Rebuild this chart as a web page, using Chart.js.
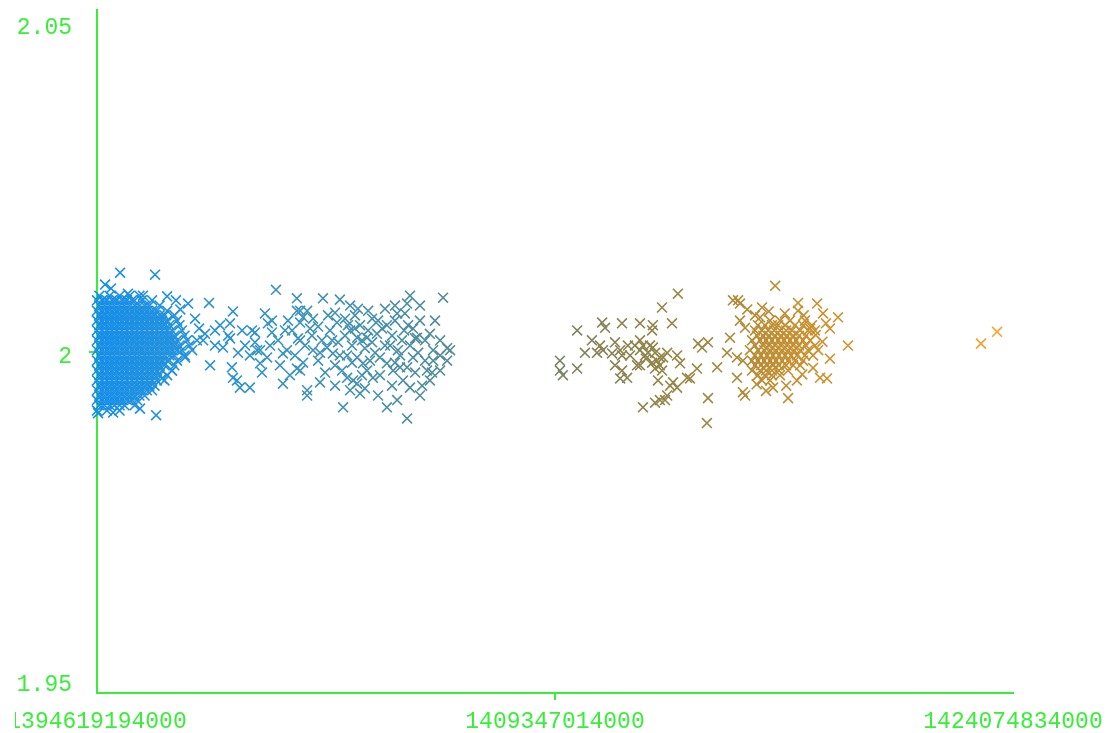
<!DOCTYPE html>
<html>
<head>
<meta charset="utf-8">
<script src="https://cdn.jsdelivr.net/npm/chart.js@4.4.1/dist/chart.umd.min.js"></script>
<style>
  html, body { margin: 0; padding: 0; background: #fff; overflow: hidden; }
  #frame { position: absolute; left: 15px; top: 0; width: 1095px; height: 733px; overflow: hidden; }
  #chart { position: absolute; left: -15px; top: 0; }
</style>
</head>
<body>
<div id="frame"><canvas id="chart" width="1110" height="733"></canvas></div>
<script>
// Axis range and ticks (x is a ms timestamp)
const T_START = 1394619194000;
const T_MID = 1409347014000;
const T_END = 1424074834000;
const DAY_MS = 86400000;
const xTickValues = [T_START, T_MID, T_END];
const yTickValues = [1.95, 2, 2.05];
const Y_MIN = 1.948;
const Y_MAX = 2.052;

// Dense first cluster: one reading level per row, days since T_START per row
const blueRowLevels = [2.0085, 2.0078, 2.0070, 2.0062, 2.0055, 2.0047, 2.0040, 2.0032, 2.0024, 2.0017, 2.0009, 2.0002,
  1.9994, 1.9986, 1.9979, 1.9971, 1.9964, 1.9956, 1.9948, 1.9941, 1.9933, 1.9926, 1.9918, 1.9910];
const blueRowDays = [
  [0.9, 4.7, 8.4, 12.1, 15.8],
  [0, 1.9, 3.7, 5.6, 7.4, 9.3, 11.2, 13.0, 16.7, 20.5],
  [0.9, 2.8, 4.7, 6.5, 8.4, 10.2, 12.1, 14.0, 15.8, 17.7, 19.5, 23.3],
  [0, 1.9, 3.7, 5.6, 7.4, 9.3, 11.2, 13.0, 14.9, 16.7, 18.6, 20.5, 22.3, 26.1],
  [0.9, 2.8, 4.7, 6.5, 8.4, 10.2, 12.1, 14.0, 15.8, 17.7, 19.5, 21.4, 23.3, 25.1, 28.8],
  [0, 1.9, 3.7, 5.6, 7.4, 9.3, 11.2, 13.0, 14.9, 16.7, 18.6, 20.5, 22.3, 24.2, 26.1, 29.8],
  [0.9, 2.8, 4.7, 6.5, 8.4, 10.2, 12.1, 14.0, 15.8, 17.7, 19.5, 21.4, 23.3, 25.1, 27.0, 30.7],
  [0, 1.9, 3.7, 5.6, 7.4, 9.3, 11.2, 13.0, 14.9, 16.7, 18.6, 20.5, 22.3, 24.2, 26.1, 27.9, 31.6],
  [0.9, 2.8, 4.7, 6.5, 8.4, 10.2, 12.1, 14.0, 15.8, 17.7, 19.5, 21.4, 23.3, 25.1, 27.0, 28.8, 32.6],
  [0, 1.9, 3.7, 5.6, 7.4, 9.3, 11.2, 13.0, 14.9, 16.7, 18.6, 20.5, 22.3, 24.2, 26.1, 27.9, 29.8, 33.5],
  [0.9, 2.8, 4.7, 6.5, 8.4, 10.2, 12.1, 14.0, 15.8, 17.7, 19.5, 21.4, 23.3, 25.1, 27.0, 28.8, 30.7, 34.4],
  [0, 1.9, 3.7, 5.6, 7.4, 9.3, 11.2, 13.0, 14.9, 16.7, 18.6, 20.5, 22.3, 24.2, 26.1, 27.9, 29.8, 31.6, 35.4],
  [0.9, 2.8, 4.7, 6.5, 8.4, 10.2, 12.1, 14.0, 15.8, 17.7, 19.5, 21.4, 23.3, 25.1, 27.0, 28.8, 32.6],
  [0, 1.9, 3.7, 5.6, 7.4, 9.3, 11.2, 13.0, 14.9, 16.7, 18.6, 20.5, 22.3, 24.2, 26.1, 29.8],
  [0.9, 2.8, 4.7, 6.5, 8.4, 10.2, 12.1, 14.0, 15.8, 17.7, 19.5, 21.4, 23.3, 25.1, 28.8],
  [0, 1.9, 3.7, 5.6, 7.4, 9.3, 11.2, 13.0, 14.9, 16.7, 18.6, 20.5, 22.3, 24.2, 27.9],
  [0.9, 2.8, 4.7, 6.5, 8.4, 10.2, 12.1, 14.0, 15.8, 17.7, 19.5, 21.4, 23.3, 26.1],
  [0, 1.9, 3.7, 5.6, 7.4, 9.3, 11.2, 13.0, 14.9, 16.7, 18.6, 20.5, 22.3, 25.1],
  [0.9, 2.8, 4.7, 6.5, 8.4, 10.2, 12.1, 14.0, 15.8, 17.7, 19.5, 21.4],
  [0, 1.9, 3.7, 5.6, 7.4, 9.3, 11.2, 13.0, 14.9, 16.7, 18.6, 20.5],
  [0.9, 2.8, 4.7, 6.5, 8.4, 10.2, 12.1, 14.0, 15.8, 17.7],
  [0, 1.9, 3.7, 5.6, 7.4, 9.3, 11.2, 13.0, 14.9],
  [0.9, 2.8, 4.7, 6.5, 8.4, 10.2, 14.0],
  [0, 3.7, 8.4]
];

// Stray readings around the first cluster: [days, value]
const blueStray = [
  [8.6, 2.0120], [21.6, 2.0117], [3.0, 2.0102], [5.2, 2.0096], [11.5, 2.0088], [17.1, 2.0085], [26.1, 2.0084],
  [29.4, 2.0078], [33.9, 2.0073], [22.0, 1.9903], [6.0, 1.9907], [16.0, 1.9913], [0.4, 1.9906], [24.2, 1.9959],
  [27.9, 1.9971], [32.8, 1.9991], [37.2, 2.0017], [36.5, 2.0050], [31.0, 2.0064], [38.0, 2.0035]
];

// Second band
const tealReadings = [
  [40.2, 2.0027], [39.5, 2.0017], [41.7, 2.0074], [42.1, 1.9979], [43.9, 2.0009], [46.9, 2.0006], [49.5, 2.0020],
  [49.5, 2.0043], [50.6, 2.0061], [50.2, 1.9976], [50.6, 1.9960], [52.1, 1.9956], [53.2, 1.9945], [56.9, 1.9945],
  [54.0, 2.0032], [57.7, 2.0032], [58.8, 2.0029], [62.5, 2.0058], [63.6, 2.0043], [65.1, 2.0029], [59.6, 2.0002],
  [60.7, 2.0002], [63.3, 1.9991], [60.7, 1.9982], [66.6, 2.0094], [69.2, 1.9951], [70.7, 2.0002], [69.2, 1.9997],
  [74.4, 2.0081], [74.4, 2.0062], [76.7, 2.0052], [78.2, 2.0062], [74.4, 1.9974], [75.6, 1.9971], [78.2, 1.9941],
  [78.2, 1.9933], [80.4, 2.0002], [85.6, 2.0006], [87.8, 1.9997], [84.1, 2.0081], [90.4, 2.0079], [88.6, 2.0059],
  [89.3, 2.0044], [97.1, 2.0065], [100.9, 2.0062], [94.2, 2.0032], [96.0, 2.0035], [96.8, 2.0021], [100.5, 2.0021],
  [104.2, 2.0027], [107.9, 2.0040], [111.7, 2.0058], [116.5, 2.0085], [115.4, 2.0073], [114.6, 2.0058], [128.8, 2.0082],
  [117.6, 2.0035], [119.1, 2.0021], [123.9, 2.0027], [130.3, 2.0005], [131.4, 2.0002], [93.1, 1.9994], [96.8, 1.9991],
  [99.0, 1.9982], [105.3, 1.9991], [107.9, 1.9982], [110.2, 1.9971], [112.8, 1.9976], [93.1, 1.9960], [95.3, 1.9956],
  [96.8, 1.9951], [100.5, 1.9971], [102.7, 1.9960], [94.2, 1.9941], [97.9, 1.9936], [91.6, 1.9915], [107.9, 1.9915],
  [111.7, 1.9926], [115.4, 1.9898], [120.2, 1.9933], [122.8, 1.9971], [125.1, 1.9986], [127.7, 1.9971], [123.9, 1.9956],
  [115.4, 1.9976], [117.6, 1.9991], [125.1, 2.0002], [113.9, 1.9956], [116.5, 1.9945],
  [72.6, 2.0032], [74.8, 2.0020], [77.4, 2.0009], [80.0, 2.0024], [82.3, 2.0038], [83.7, 2.0017], [86.7, 2.0032],
  [89.7, 2.0014], [92.3, 2.0024], [94.9, 2.0009], [97.9, 2.0040], [99.7, 2.0005], [102.4, 2.0014], [104.6, 2.0047],
  [107.2, 2.0009], [109.8, 2.0024], [112.0, 2.0002], [114.3, 2.0032], [116.5, 2.0009], [119.5, 1.9998], [122.1, 2.0017],
  [73.7, 1.9994], [76.7, 1.9983], [82.3, 1.9986], [84.9, 1.9968], [88.6, 1.9979], [91.2, 1.9971], [94.9, 1.9983],
  [98.6, 1.9964], [101.6, 1.9986], [105.3, 1.9964], [109.8, 1.9948], [112.8, 1.9994], [118.4, 1.9968], [121.0, 1.9948],
  [71.1, 2.0047], [75.6, 2.0044], [80.4, 2.0050], [86.0, 2.0055], [92.3, 2.0050], [96.0, 2.0055], [102.4, 2.0050],
  [107.2, 2.0065], [110.9, 2.0047], [120.2, 2.0047], [125.8, 2.0047], [127.7, 2.0017], [130.3, 1.9986], [67.4, 2.0017],
  [64.4, 2.0009], [68.1, 1.9979], [61.4, 1.9968], [56.9, 1.9994], [55.1, 2.0009], [52.5, 1.9998], [48.8, 2.0024],
  [45.8, 2.0040], [43.9, 2.0032],
  [75.6, 2.0017], [79.3, 2.0035], [83.0, 1.9998], [87.5, 2.0017], [90.4, 1.9994], [93.4, 2.0040], [98.6, 2.0017],
  [100.9, 2.0032], [103.5, 1.9998], [106.1, 2.0035], [109.1, 2.0009], [110.9, 1.9983], [113.5, 2.0017], [115.8, 2.0040],
  [118.4, 2.0020], [122.1, 1.9986], [124.7, 1.9968], [83.0, 1.9953], [88.6, 1.9948], [99.7, 1.9944], [104.6, 1.9933],
  [71.8, 1.9964], [75.6, 2.0062], [94.2, 2.0070], [110.9, 2.0070], [120.2, 2.0070], [127.7, 1.9994], [70.0, 2.0032],
  [65.1, 2.0047], [58.8, 2.0014]
];

// Third group
const oliveReadings = [
  [216.2, 2.0088], [210.3, 2.0067], [178.7, 2.0032], [188.0, 2.0044], [189.1, 2.0036], [195.4, 2.0043], [202.1, 2.0043],
  [206.9, 2.0040], [206.6, 2.0032], [214.0, 2.0043], [184.2, 2.0017], [187.2, 2.0009], [188.3, 2.0002], [181.6, 1.9998],
  [172.3, 1.9986], [172.3, 1.9971], [173.4, 1.9964], [178.7, 1.9974], [191.7, 1.9997], [192.8, 2.0014], [194.7, 2.0002],
  [195.4, 1.9994], [195.4, 1.9971], [194.7, 1.9959], [197.3, 1.9960], [202.1, 2.0017], [203.2, 2.0009], [205.1, 1.9998],
  [206.9, 2.0006], [208.4, 1.9986], [209.5, 1.9979], [207.7, 1.9974], [210.7, 1.9991], [212.2, 1.9998], [215.9, 1.9994],
  [217.0, 1.9982], [201.0, 1.9979], [202.1, 1.9979], [208.8, 1.9956], [214.4, 1.9953], [215.9, 1.9945], [219.6, 1.9960],
  [223.3, 1.9974], [223.7, 2.0012], [225.2, 2.0006], [227.4, 2.0014], [230.8, 1.9976], [212.2, 1.9933], [209.5, 1.9926],
  [207.7, 1.9922], [211.4, 1.9926], [203.2, 1.9915], [227.4, 1.9929], [227.0, 1.9891], [198.4, 1.9994], [204.3, 1.9989],
  [206.6, 1.9983], [210.3, 1.9971], [213.3, 1.9948], [220.7, 1.9959], [200.2, 2.0009],
  [204.0, 1.9994], [205.8, 2.0009], [207.7, 1.9998], [209.5, 1.9991], [202.1, 2.0002], [197.6, 2.0009], [192.8, 1.9979],
  [186.1, 1.9998]
];

// Fourth group: dense core rows plus the loose readings around it
const goldRowLevels = [2.0047, 2.0040, 2.0032, 2.0024, 2.0017, 2.0009, 2.0002, 1.9994, 1.9986, 1.9979, 1.9971, 1.9964, 1.9956];
const goldRowDays = [
  [250.5, 254.2, 257.9, 263.5],
  [246.0, 248.6, 251.2, 253.5, 256.1, 259.8, 262.8, 266.1],
  [244.9, 247.5, 249.8, 252.0, 254.2, 256.5, 258.7, 261.7, 264.6, 267.2],
  [245.7, 247.9, 250.1, 252.4, 254.6, 256.8, 259.1, 261.3, 263.9],
  [243.8, 246.8, 249.0, 251.2, 253.5, 255.7, 257.9, 260.2, 262.8, 265.4],
  [244.9, 247.9, 250.1, 252.4, 254.6, 256.8, 259.1, 261.3, 263.9, 267.2],
  [243.0, 246.0, 248.3, 250.5, 252.7, 255.0, 257.2, 259.4, 261.7, 264.6, 268.4],
  [244.9, 247.1, 249.4, 251.6, 253.8, 256.1, 258.3, 260.5, 263.5, 266.5],
  [243.8, 246.0, 248.3, 250.5, 252.7, 255.0, 257.2, 259.8, 262.8],
  [244.9, 247.1, 249.4, 251.6, 253.8, 256.5, 259.1, 261.7],
  [243.8, 246.8, 249.0, 251.2, 253.8, 257.2],
  [246.0, 248.6, 251.2, 254.2],
  [247.5, 250.5]
];
const goldReadings = [
  [252.4, 2.0100], [238.6, 2.0078], [239.3, 2.0073], [247.5, 2.0067], [260.9, 2.0074], [260.9, 2.0062], [268.0, 2.0073],
  [244.9, 2.0055], [246.8, 2.0052], [270.2, 2.0058], [275.8, 2.0052], [239.3, 2.0047], [241.2, 2.0036], [235.6, 2.0021],
  [234.5, 1.9998], [279.5, 2.0009], [238.2, 1.9991], [240.4, 1.9986], [238.2, 1.9960], [240.4, 1.9938], [241.2, 1.9933],
  [251.6, 1.9945], [257.2, 1.9929], [260.5, 1.9956], [269.1, 1.9960], [271.7, 1.9959], [272.8, 1.9989], [236.7, 2.0078],
  [272.8, 2.0035], [271.3, 2.0043], [265.4, 2.0035], [242.0, 2.0064], [250.0, 2.0061], [256.0, 2.0058], [263.0, 2.0055],
  [267.5, 2.0025], [270.0, 2.0015], [266.5, 1.9975], [262.5, 1.9965], [256.5, 1.9948], [249.0, 1.9940], [245.5, 1.9950]
];

// Last two readings
const orangeReadings = [[329.0, 2.0012], [335.0, 2.0030]];

const GREEN = '#38ee38';
const AXIS_FONT = { family: '"Liberation Mono", "DejaVu Sans Mono", monospace', size: 23 };

// Marker colour drifts with time from blue through olive to orange
const colorStops = [
  [0.00, [22, 142, 232]],
  [0.10, [36, 146, 220]],
  [0.20, [58, 148, 192]],
  [0.36, [80, 142, 156]],
  [0.55, [134, 130, 84]],
  [0.66, [156, 136, 68]],
  [0.74, [192, 142, 50]],
  [1.00, [250, 164, 46]]
];

function colorAt(t) {
  t = Math.max(0, Math.min(1, t));
  for (let i = 1; i < colorStops.length; i++) {
    const [t1, c1] = colorStops[i];
    const [t0, c0] = colorStops[i - 1];
    if (t <= t1) {
      const k = (t - t0) / (t1 - t0);
      const c = c0.map((v, j) => Math.round(v + (c1[j] - v) * k));
      return `rgb(${c[0]},${c[1]},${c[2]})`;
    }
  }
  return 'rgb(250,164,46)';
}

function pointColor(ctx) {
  const raw = ctx.raw;
  if (!raw) return colorAt(0);
  return colorAt((raw.x - T_START) / (T_END - T_START));
}

function rowsToPoints(levels, rows) {
  const pts = [];
  rows.forEach((days, i) => {
    days.forEach(d => pts.push({ x: T_START + d * DAY_MS, y: levels[i] }));
  });
  return pts;
}

function pairsToPoints(pairs) {
  return pairs.map(([d, v]) => ({ x: T_START + d * DAY_MS, y: v }));
}

function makeDataset(points) {
  return {
    data: points,
    pointStyle: 'crossRot',
    pointRadius: 7,
    borderWidth: 1.6,
    borderColor: pointColor,
    backgroundColor: pointColor,
    clip: false
  };
}

const datasets = [
  makeDataset(rowsToPoints(blueRowLevels, blueRowDays)),
  makeDataset(pairsToPoints(blueStray)),
  makeDataset(pairsToPoints(tealReadings)),
  makeDataset(pairsToPoints(oliveReadings)),
  makeDataset(rowsToPoints(goldRowLevels, goldRowDays)),
  makeDataset(pairsToPoints(goldReadings)),
  makeDataset(pairsToPoints(orangeReadings))
];

// only the middle tick gets a visible tick mark
const middleTickOnly = ctx => (ctx.index === 1 ? GREEN : 'rgba(0,0,0,0)');

new Chart(document.getElementById('chart'), {
  type: 'scatter',
  data: { datasets },
  options: {
    responsive: false,
    animation: false,
    events: [],
    layout: { padding: { top: 10, right: 97, bottom: 0, left: 0 } },
    plugins: { legend: { display: false }, tooltip: { enabled: false } },
    scales: {
      x: {
        type: 'linear',
        min: T_START,
        max: T_END,
        afterBuildTicks: scale => { scale.ticks = xTickValues.map(v => ({ value: v })); },
        afterFit: scale => { scale.height = 40; scale.paddingLeft = 0; scale.paddingRight = 0; },
        border: { color: GREEN, width: 2 },
        grid: { drawOnChartArea: false, tickLength: 7, lineWidth: 2, color: middleTickOnly },
        ticks: {
          color: GREEN,
          font: AXIS_FONT,
          padding: 8,
          maxRotation: 0,
          autoSkip: false,
          callback: v => String(v)
        }
      },
      y: {
        min: Y_MIN,
        max: Y_MAX,
        afterBuildTicks: scale => { scale.ticks = yTickValues.map(v => ({ value: v })); },
        afterFit: scale => { scale.width = 97; scale.paddingTop = 0; scale.paddingBottom = 0; },
        border: { color: GREEN, width: 2 },
        grid: { drawOnChartArea: false, tickLength: 8, lineWidth: 2, color: middleTickOnly },
        ticks: {
          color: GREEN,
          font: AXIS_FONT,
          padding: 17,
          labelOffset: 5,
          callback: v => String(v)
        }
      }
    }
  }
});
</script>
</body>
</html>
